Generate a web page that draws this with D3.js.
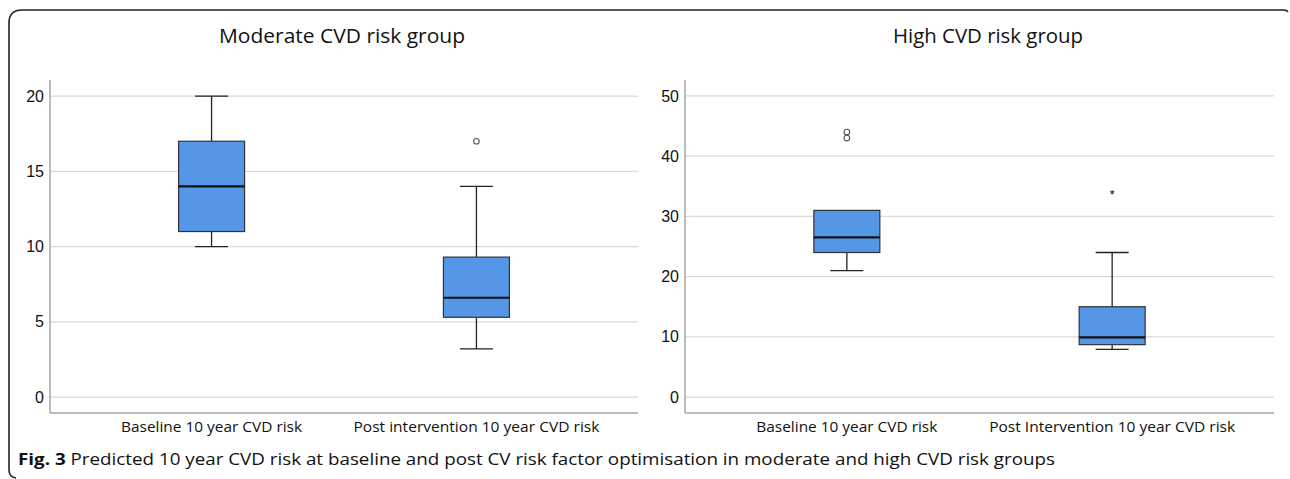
<!DOCTYPE html>
<meta charset="utf-8">
<style>
body { margin: 0; background: #fff; }
svg { font-family: "Open Sans", sans-serif; }
.grid line { stroke: #d9d9d9; stroke-width: 1.2; }
.axisline { stroke: #a6a6a6; stroke-width: 1.5; }
.tick text { font-size: 16px; fill: #111; }
.box rect { fill: #5596e6; stroke: #333; stroke-width: 1.2; }
.box .median { stroke: #111; stroke-width: 2.2; }
.box .whisker { stroke: #222; stroke-width: 1.3; }
.outlier { fill: #fff; stroke: #555; stroke-width: 1.1; }
</style>
<body>
<script src="https://cdn.jsdelivr.net/npm/d3@7"></script>
<script>

// --- data ---
var moderateLabels = ['Baseline 10 year CVD risk', 'Post intervention 10 year CVD risk']
var moderateStats = [
    {lo: 10, q1: 11, med: 14, q3: 17, hi: 20},
    {lo: 3.2, q1: 5.3, med: 6.6, q3: 9.3, hi: 14}
]
var moderateOutliers = [[], [17]]
var moderateExtremes = [[], []]
var moderateTicks = [0, 5, 10, 15, 20]

var highLabels = ['Baseline 10 year CVD risk', 'Post Intervention 10 year CVD risk']
var highStats = [
    {lo: 21, q1: 24, med: 26.5, q3: 31, hi: 31},
    {lo: 7.9, q1: 8.7, med: 9.9, q3: 15, hi: 24}
]
var highOutliers = [[43, 44], []]
var highExtremes = [[], [34]]
var highTicks = [0, 10, 20, 30, 40, 50]

var width = 1290
var height = 479

var svg = d3.select('body').append('svg')
    .attr('width', width)
    .attr('height', height)

// outer frame (top and left edges only, rounded corners)
svg.append('path')
    .attr('d', 'M1288,12 Q1287,10 1284,10 L22,10 Q9,10 9,23 L9,470 Q9,477 16,478')
    .attr('fill', 'none')
    .attr('stroke', '#222')
    .attr('stroke-width', 1.6)

function panel(opt) {
    var g = svg.append('g')

    var y = d3.scaleLinear().domain(opt.domain).range([413, 80])
    var x = d3.scalePoint().domain(opt.labels).range([opt.left, opt.right]).padding(0.61)
    var boxW = 66, capW = 33

    g.append('g').attr('class', 'grid')
        .selectAll('line').data(opt.ticks).enter().append('line')
        .attr('x1', opt.left).attr('x2', opt.right)
        .attr('y1', function (d) { return y(d) }).attr('y2', function (d) { return y(d) })

    var yAxis = g.append('g')
        .attr('transform', 'translate(' + opt.left + ',0)')
        .call(d3.axisLeft(y).tickValues(opt.ticks).tickSize(0).tickPadding(6))
    yAxis.select('.domain').remove()

    g.append('line').attr('class', 'axisline')
        .attr('x1', opt.left).attr('x2', opt.left).attr('y1', 80).attr('y2', 413)
    g.append('line').attr('class', 'axisline')
        .attr('x1', opt.left).attr('x2', opt.right).attr('y1', 413).attr('y2', 413)

    // x labels
    g.selectAll('.xlab').data(opt.labels).enter().append('text')
        .attr('class', 'xlab')
        .attr('x', function (d) { return x(d) })
        .attr('y', 432)
        .attr('text-anchor', 'middle')
        .attr('font-size', 14.5)
        .attr('fill', '#111')
        .attr('textLength', function (d, i) { return opt.labelW[i] })
        .attr('lengthAdjust', 'spacingAndGlyphs')
        .text(function (d) { return d })

    var boxes = g.selectAll('.box').data(opt.stats).enter().append('g')
        .attr('class', 'box')
        .attr('transform', function (d, i) { return 'translate(' + x(opt.labels[i]) + ',0)' })

    boxes.filter(function (d) { return d.hi > d.q3 }).append('line').attr('class', 'whisker')
        .attr('x1', 0).attr('x2', 0)
        .attr('y1', function (d) { return y(d.hi) }).attr('y2', function (d) { return y(d.q3) })
    boxes.append('line').attr('class', 'whisker')
        .attr('x1', 0).attr('x2', 0)
        .attr('y1', function (d) { return y(d.q1) }).attr('y2', function (d) { return y(d.lo) })
    boxes.filter(function (d) { return d.hi > d.q3 }).append('line').attr('class', 'whisker')
        .attr('x1', -capW / 2).attr('x2', capW / 2)
        .attr('y1', function (d) { return y(d.hi) }).attr('y2', function (d) { return y(d.hi) })
    boxes.append('line').attr('class', 'whisker')
        .attr('x1', -capW / 2).attr('x2', capW / 2)
        .attr('y1', function (d) { return y(d.lo) }).attr('y2', function (d) { return y(d.lo) })

    boxes.append('rect')
        .attr('x', -boxW / 2).attr('width', boxW)
        .attr('y', function (d) { return y(d.q3) })
        .attr('height', function (d) { return y(d.q1) - y(d.q3) })
    boxes.append('line').attr('class', 'median')
        .attr('x1', -boxW / 2).attr('x2', boxW / 2)
        .attr('y1', function (d) { return y(d.med) }).attr('y2', function (d) { return y(d.med) })

    opt.outliers.forEach(function (vals, i) {
        g.selectAll(null).data(vals).enter().append('circle')
            .attr('class', 'outlier')
            .attr('cx', x(opt.labels[i]))
            .attr('cy', function (d) { return y(d) })
            .attr('r', 2.8)
    })
    opt.extremes.forEach(function (vals, i) {
        g.selectAll(null).data(vals).enter().append('path')
            .attr('transform', function (d) { return 'translate(' + x(opt.labels[i]) + ',' + y(d) + ')' })
            .attr('d', d3.symbol(d3.symbolAsterisk, 14))
            .attr('stroke', '#333').attr('stroke-width', 1).attr('fill', 'none')
    })

    svg.append('text')
        .attr('x', opt.titleX).attr('y', 43)
        .attr('text-anchor', 'middle')
        .attr('font-size', 20)
        .attr('fill', '#111')
        .attr('textLength', opt.titleW)
        .attr('lengthAdjust', 'spacingAndGlyphs')
        .text(opt.title)
}

panel({
    title: 'Moderate CVD risk group', titleX: 342, titleW: 246,
    left: 50, right: 638, domain: [-1.06, 21.07],
    labels: moderateLabels, labelW: [181, 246],
    stats: moderateStats, outliers: moderateOutliers, extremes: moderateExtremes,
    ticks: moderateTicks
})

panel({
    title: 'High CVD risk group', titleX: 988, titleW: 190,
    left: 685, right: 1274, domain: [-2.65, 52.65],
    labels: highLabels, labelW: [181, 246],
    stats: highStats, outliers: highOutliers, extremes: highExtremes,
    ticks: highTicks
})

// caption
var cap = svg.append('text')
    .attr('x', 18).attr('y', 465)
    .attr('font-size', 16.5)
    .attr('fill', '#111')
    .attr('textLength', 1037)
    .attr('lengthAdjust', 'spacingAndGlyphs')
cap.append('tspan').attr('font-weight', 'bold').text('Fig. 3')
cap.append('tspan').text(' Predicted 10 year CVD risk at baseline and post CV risk factor optimisation in moderate and high CVD risk groups')

</script>
</body>
